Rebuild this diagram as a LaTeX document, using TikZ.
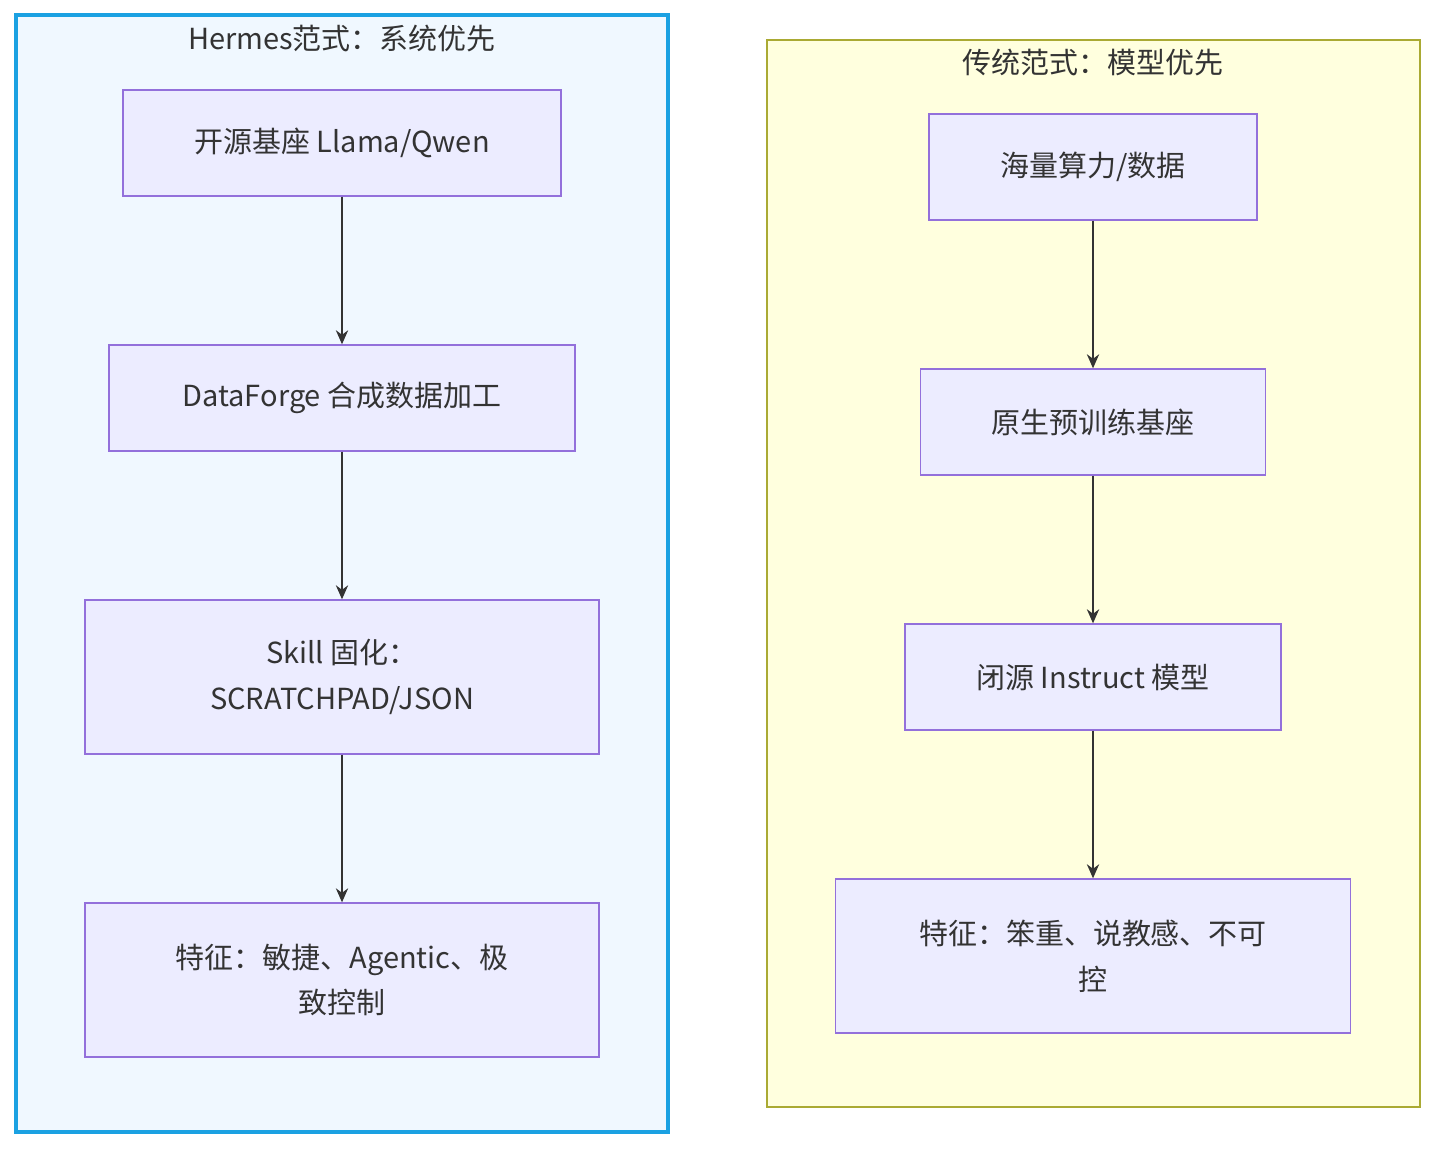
\documentclass[tikz,border=0pt]{standalone}
\usepackage{fontspec}
\setmainfont{Noto Sans CJK SC}
\usetikzlibrary{arrows.meta}
\definecolor{nodefill}{HTML}{ECECFF}
\definecolor{nodeline}{HTML}{9370DB}
\definecolor{txt}{HTML}{333333}
\definecolor{hermesfill}{HTML}{F0F8FF}
\definecolor{hermesline}{HTML}{1BA1E2}
\definecolor{tradfill}{HTML}{FFFFDE}
\definecolor{tradline}{HTML}{AAAA33}
\tikzset{
  stepbox/.style={draw=nodeline, fill=nodefill, line width=0.8pt, text=txt,
    font=\fontsize{16.5}{26}\selectfont, align=center, inner sep=0pt},
  flow/.style={draw=txt, line width=0.9pt, -{Stealth[length=8pt,width=7pt]}},
  title/.style={text=txt, font=\fontsize{16.5}{20}\selectfont}
}
\begin{document}
\begin{tikzpicture}[x=0.02cm, y=-0.02cm]
    \useasboundingbox (0,0) rectangle (1452,1160);

    % Hermes
    \draw[fill=hermesfill, draw=hermesline, line width=2pt] (16,15) rectangle (668,1132);
    \node[title] (ht) at (342,38) {Hermes范式：系统优先};
    \node[stepbox, minimum width=438*0.02cm, minimum height=106*0.02cm] (a1) at (342,143) {开源基座 Llama/Qwen};
    \node[stepbox, minimum width=466*0.02cm, minimum height=106*0.02cm] (a2) at (342,398) {DataForge 合成数据加工};
    \node[stepbox, minimum width=514*0.02cm, minimum height=154*0.02cm] (a3) at (342,677) {Skill 固化：\\SCRATCHPAD/JSON};
    \node[stepbox, minimum width=514*0.02cm, minimum height=154*0.02cm] (a4) at (342,980) {特征：敏捷、Agentic、极\\致控制};
    \draw[flow] (a1) -- (a2);
    \draw[flow] (a2) -- (a3);
    \draw[flow] (a3) -- (a4);

    % Traditional
    \draw[fill=tradfill, draw=tradline, line width=0.8pt] (767,40) rectangle (1420,1107);
    \node[title] (tt) at (1093,62) {传统范式：模型优先};
    \node[stepbox, minimum width=328*0.02cm, minimum height=106*0.02cm] (b1) at (1093,167) {海量算力/数据};
    \node[stepbox, minimum width=345*0.02cm, minimum height=106*0.02cm] (b2) at (1093,422) {原生预训练基座};
    \node[stepbox, minimum width=376*0.02cm, minimum height=106*0.02cm] (b3) at (1093,677) {闭源 Instruct 模型};
    \node[stepbox, minimum width=515*0.02cm, minimum height=154*0.02cm] (b4) at (1093,956) {特征：笨重、说教感、不可\\控};
    \draw[flow] (b1) -- (b2);
    \draw[flow] (b2) -- (b3);
    \draw[flow] (b3) -- (b4);
\end{tikzpicture}
\end{document}
